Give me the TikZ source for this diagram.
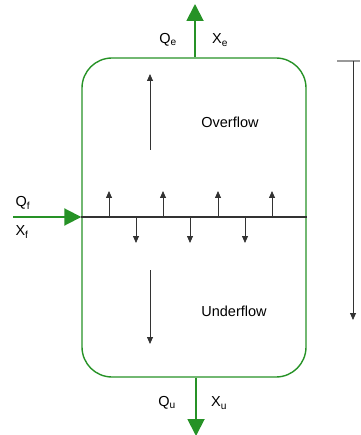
\documentclass[tikz,border=0pt]{standalone}
\usepackage{fontspec}
\setmainfont{Liberation Sans}
\usetikzlibrary{positioning,arrows.meta}
\definecolor{flowgreen}{RGB}{38,146,38}
\definecolor{liner}{HTML}{333333}
\definecolor{tickgray}{HTML}{999999}

\begin{document}
\begin{tikzpicture}[x=1pt,y=-1pt,font=\fontsize{14.5}{17}\selectfont,
tankbox/.style={draw=flowgreen,line width=1.4pt,rounded corners=30pt,minimum width=224pt,minimum height=319pt,inner sep=0pt},
stream/.style={-{Triangle[length=17pt,width=17pt]},line width=1.9pt,draw=flowgreen,fill=flowgreen},
small/.style={-{Triangle[length=7pt,width=6pt]},line width=0.8pt,draw=liner},
lbl/.style={inner sep=0pt,anchor=center}]
\useasboundingbox (0,0) rectangle (360,435);
\node[tankbox] (tank) at (194,217.5) {};
\coordinate (eff) at (195,4);
\coordinate (feedin) at (13,217);
\coordinate (under) at (196,436);
\draw[stream] (tank.north -| eff) -- (eff);
\draw[stream] (tank.south -| under) -- (under);
\draw[stream] (feedin) -- (tank.west |- feedin);
% feed level
\draw[liner,line width=1.2pt] (tank.west |- feedin) -- (tank.east |- feedin);
\foreach \x in {109,163,218,272} \draw[small] (\x,217) -- (\x,191);
\foreach \x in {136,190,245} \draw[small] (\x,217) -- (\x,243);
% bulk flows
\coordinate (upA) at (150,150);
\coordinate (upB) at (150,74);
\coordinate (dnA) at (150,270);
\coordinate (dnB) at (150,344);
\draw[small] (upA) -- (upB);
\draw[small] (dnA) -- (dnB);
\node[lbl] (over) at (230,122) {Overflow};
\node[lbl] (underlbl) at (234,311) {Underflow};
\node[lbl] (qe) at (168,40) {Q\textsubscript{e}};
\node[lbl] (xe) at (220,40) {X\textsubscript{e}};
\node[lbl] (qf) at (23,203) {Q\textsubscript{f}};
\node[lbl] (xf) at (22,232) {X\textsubscript{f}};
\node[lbl] (qu) at (167,403) {Q\textsubscript{u}};
\node[lbl] (xu) at (219,403) {X\textsubscript{u}};
% depth scale
\coordinate (sTop) at (353,61);
\coordinate (sBot) at (353,320);
\draw[tickgray,line width=1.2pt] (337,61) -- (360,61);
\draw[small] (sTop) -- (sBot);
\end{tikzpicture}
\end{document}
